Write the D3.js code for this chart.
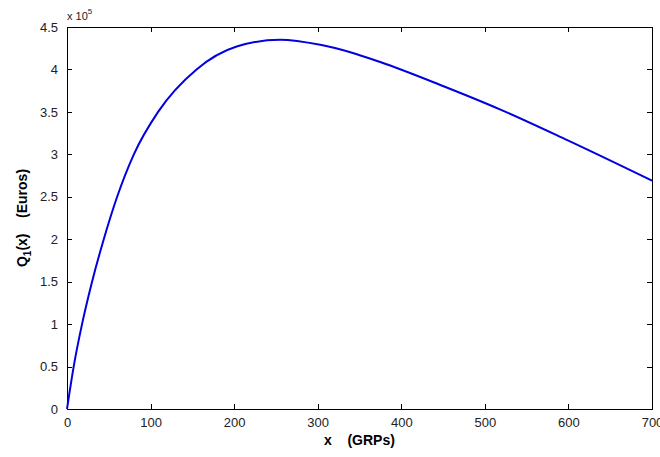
<!DOCTYPE html>
<html>
<head>
<meta charset="utf-8">
<script src="https://cdn.jsdelivr.net/npm/d3@7"></script>
<style>
  body { margin: 0; background: #fff; }
  svg { display: block; }
</style>
</head>
<body>
<svg id="chart" width="660" height="457"></svg>
<script>
// values (x in GRPs, Q1 in Euros)
const grps = [0, 8, 18, 30, 44, 60, 80, 109, 155, 203, 255, 303, 340, 374, 446, 518, 598, 700];
const euros = [0, 50000, 100000, 150000, 200000, 250000, 300000, 350000, 400000, 427000, 435000, 429000, 420000, 409000, 382000, 353000, 317000, 269000];

const xTicks = [0, 100, 200, 300, 400, 500, 600, 700];
const yTicks = [0, 0.5, 1, 1.5, 2, 2.5, 3, 3.5, 4, 4.5];
const Y_EXP = 1e5;

const LEFT = 67, RIGHT = 652, TOP = 27, BOTTOM = 409;
const TICK = 5;
const FONT = "'Liberation Sans', Arial, sans-serif";

const svg = d3.select("#chart");

const x = d3.scaleLinear().domain([0, 700]).range([LEFT, RIGHT]);
const y = d3.scaleLinear().domain([0, 4.5 * Y_EXP]).range([BOTTOM, TOP]);

// axes on all four sides, ticks pointing inward
const bottomAxis = d3.axisBottom(x).tickValues(xTicks).tickSizeInner(-TICK).tickSizeOuter(0).tickPadding(9);
const topAxis = d3.axisTop(x).tickValues(xTicks).tickSizeInner(-TICK).tickSizeOuter(0).tickFormat("");
const leftAxis = d3.axisLeft(y).tickValues(yTicks.map(v => v * Y_EXP)).tickSizeInner(-TICK).tickSizeOuter(0)
  .tickPadding(9).tickFormat(v => d3.format("~g")(v / Y_EXP));
const rightAxis = d3.axisRight(y).tickValues(yTicks.map(v => v * Y_EXP)).tickSizeInner(-TICK).tickSizeOuter(0).tickFormat("");

function styleAxis(g) {
  g.selectAll("path, line").attr("stroke", "#000").attr("stroke-width", 1).attr("shape-rendering", "crispEdges");
  g.selectAll("text").attr("font-family", FONT).attr("font-size", 13).attr("fill", "#222");
}

svg.append("g").attr("transform", `translate(0,${BOTTOM})`).call(bottomAxis).call(styleAxis);
svg.append("g").attr("transform", `translate(0,${TOP})`).call(topAxis).call(styleAxis);
svg.append("g").attr("transform", `translate(${LEFT},0)`).call(leftAxis).call(styleAxis);
svg.append("g").attr("transform", `translate(${RIGHT},0)`).call(rightAxis).call(styleAxis);

// the curve
const line = d3.line()
  .x((d, i) => x(grps[i]))
  .y(d => y(d))
  .curve(d3.curveMonotoneX);

svg.append("path")
  .datum(euros)
  .attr("d", line)
  .attr("fill", "none")
  .attr("stroke", "#0000e0")
  .attr("stroke-width", 2);

// exponent label
const expo = svg.append("text")
  .attr("x", LEFT)
  .attr("y", 20)
  .attr("font-family", FONT)
  .attr("font-size", 11)
  .attr("fill", "#222");
expo.append("tspan").text("x 10");
expo.append("tspan").attr("dy", -6).attr("font-size", 8).text("5");

// axis titles
svg.append("text")
  .attr("x", (LEFT + RIGHT) / 2)
  .attr("y", 445)
  .attr("text-anchor", "middle")
  .attr("font-family", FONT)
  .attr("font-size", 14)
  .attr("font-weight", "bold")
  .attr("xml:space", "preserve")
  .text("x    (GRPs)");

const yl = svg.append("text")
  .attr("transform", `translate(27,${(TOP + BOTTOM) / 2}) rotate(-90)`)
  .attr("text-anchor", "middle")
  .attr("font-family", FONT)
  .attr("font-size", 14)
  .attr("font-weight", "bold")
  .attr("xml:space", "preserve");
yl.append("tspan").text("Q");
yl.append("tspan").attr("dy", 4).attr("font-size", 10).text("1");
yl.append("tspan").attr("dy", -4).text("(x)    (Euros)");
</script>
</body>
</html>
